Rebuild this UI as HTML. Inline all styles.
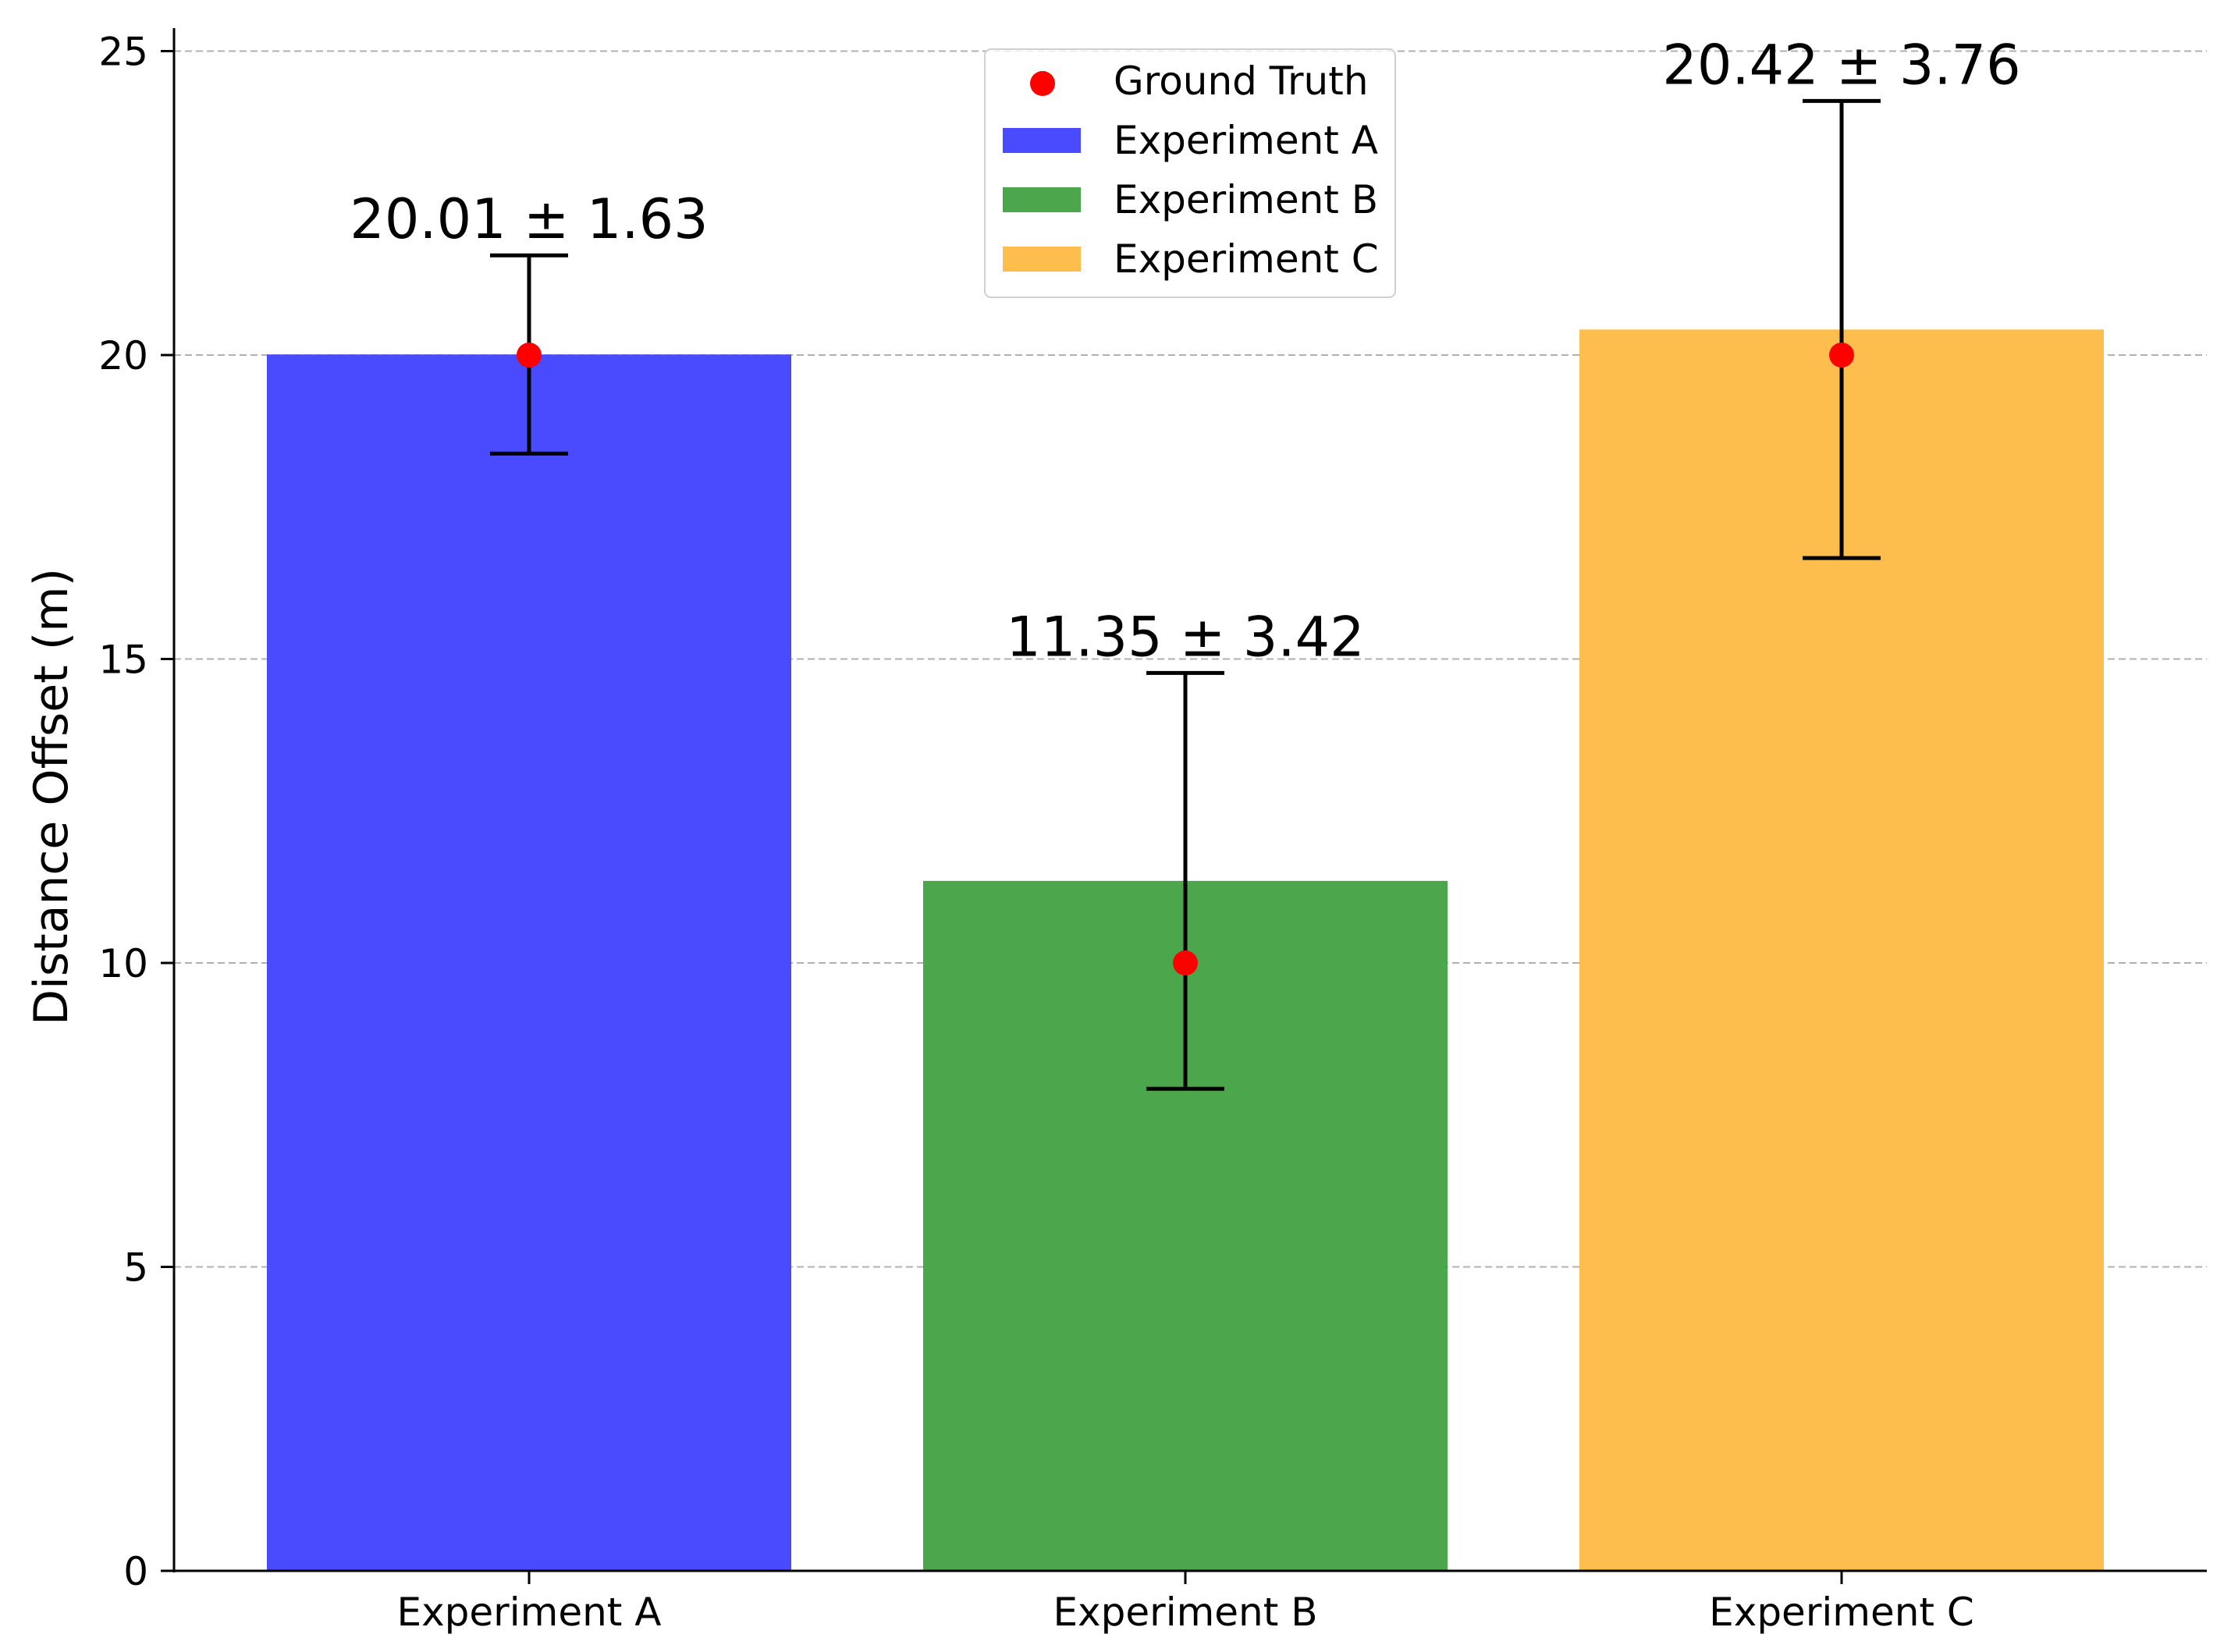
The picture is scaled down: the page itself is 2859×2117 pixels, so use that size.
<!DOCTYPE html>
<html><head><meta charset="utf-8"><style>
html,body{margin:0;padding:0;background:#fff;}
svg{display:block;font-family:"DejaVu Sans","Liberation Sans",sans-serif;}
</style></head><body>
<svg id="chart" width="2859" height="2117" viewBox="0 0 2859 2117" xmlns="http://www.w3.org/2000/svg"></svg>
<script>
const categories = ["Experiment A", "Experiment B", "Experiment C"];
const means = [20.01, 11.35, 20.42];
const errors = [1.63, 3.42, 3.76];
const groundTruth = [20, 10, 20];
const yTicks = [0, 5, 10, 15, 20, 25];
const colors = ["#4a4aff", "#4ca64c", "#fdbe4d"];

const NS = "http://www.w3.org/2000/svg";
const svg = document.getElementById("chart");
const X0 = 223, X1 = 2828, YTOP = 36;
function xPos(i){ return 678 + 841 * i; }
function yPos(v){ return 2013 - 77.9 * v; }
const BW = 672;
function mk(tag, attrs, parent){
  const e = document.createElementNS(NS, tag);
  for (const k in attrs) e.setAttribute(k, attrs[k]);
  (parent || svg).appendChild(e);
  return e;
}

yTicks.forEach(t => {
  const g = mk("line", {x1: X0, x2: X1, y1: yPos(t), y2: yPos(t), stroke: "#b0b0b0", "stroke-width": 2, "stroke-dasharray": "9,5"});
  
  
});

categories.forEach((c, i) => {
  const r = mk("rect", {x: xPos(i) - BW/2, y: yPos(means[i]), width: BW, height: yPos(0) - yPos(means[i]), fill: colors[i]});
  
  
});

categories.forEach((c, i) => {
  const x = xPos(i), yt = yPos(means[i] + errors[i]), yb = yPos(means[i] - errors[i]);
  const g = mk("g", {stroke: "#000", "stroke-width": 5});
  
  
  mk("line", {x1: x, x2: x, y1: yt, y2: yb}, g);
  mk("line", {x1: x - 50, x2: x + 50, y1: yt, y2: yt}, g);
  mk("line", {x1: x - 50, x2: x + 50, y1: yb, y2: yb}, g);
  const t = mk("text", {x: x, y: yt - 22, "text-anchor": "middle", "font-size": 70, fill: "#000"});
  t.textContent = means[i].toFixed(2) + " ± " + errors[i].toFixed(2);
  
  
});

categories.forEach((c, i) => {
  const d = mk("circle", {cx: xPos(i), cy: yPos(groundTruth[i]), r: 16, fill: "#ff0000"});
  
  
});

const ya = mk("line", {x1: X0, x2: X0, y1: YTOP, y2: yPos(0) + 2, stroke: "#000", "stroke-width": 3});


const xa = mk("line", {x1: X0 - 1, x2: X1, y1: yPos(0), y2: yPos(0), stroke: "#000", "stroke-width": 3});



yTicks.forEach(t => {
  mk("line", {x1: X0 - 17, x2: X0, y1: yPos(t), y2: yPos(t), stroke: "#000", "stroke-width": 3});
  const l = mk("text", {x: X0 - 33, y: yPos(t) + 18, "text-anchor": "end", "font-size": 50, fill: "#000"});
  l.textContent = t;
  
  
});
categories.forEach((c, i) => {
  mk("line", {x1: xPos(i), x2: xPos(i), y1: yPos(0), y2: yPos(0) + 17, stroke: "#000", "stroke-width": 3});
  const l = mk("text", {x: xPos(i), y: yPos(0) + 70, "text-anchor": "middle", "font-size": 50, fill: "#000"});
  l.textContent = c;
  
  
});

const yl = mk("text", {x: 0, y: 0, transform: "translate(86,1021) rotate(-90)", "text-anchor": "middle", "font-size": 60, fill: "#000"});
yl.textContent = "Distance Offset (m)";



const lg = mk("g", {});


mk("rect", {x: 1262, y: 63, width: 526, height: 318, rx: 8, fill: "#fff", "fill-opacity": 0.8, stroke: "#d0d0d0", "stroke-width": 2}, lg);
const entries = ["Ground Truth"].concat(categories);
entries.forEach((name, k) => {
  const cy = 104 + 76 * k;
  const e = mk("g", {}, lg);
  
  
  if (k === 0) mk("circle", {cx: 1336, cy: cy + 3, r: 16, fill: "#ff0000"}, e);
  else mk("rect", {x: 1285, y: cy - 16, width: 100, height: 32, fill: colors[k - 1]}, e);
  const t = mk("text", {x: 1427, y: cy + 17, "font-size": 50, fill: "#000"}, e);
  t.textContent = name;
});
</script>
</body></html>
